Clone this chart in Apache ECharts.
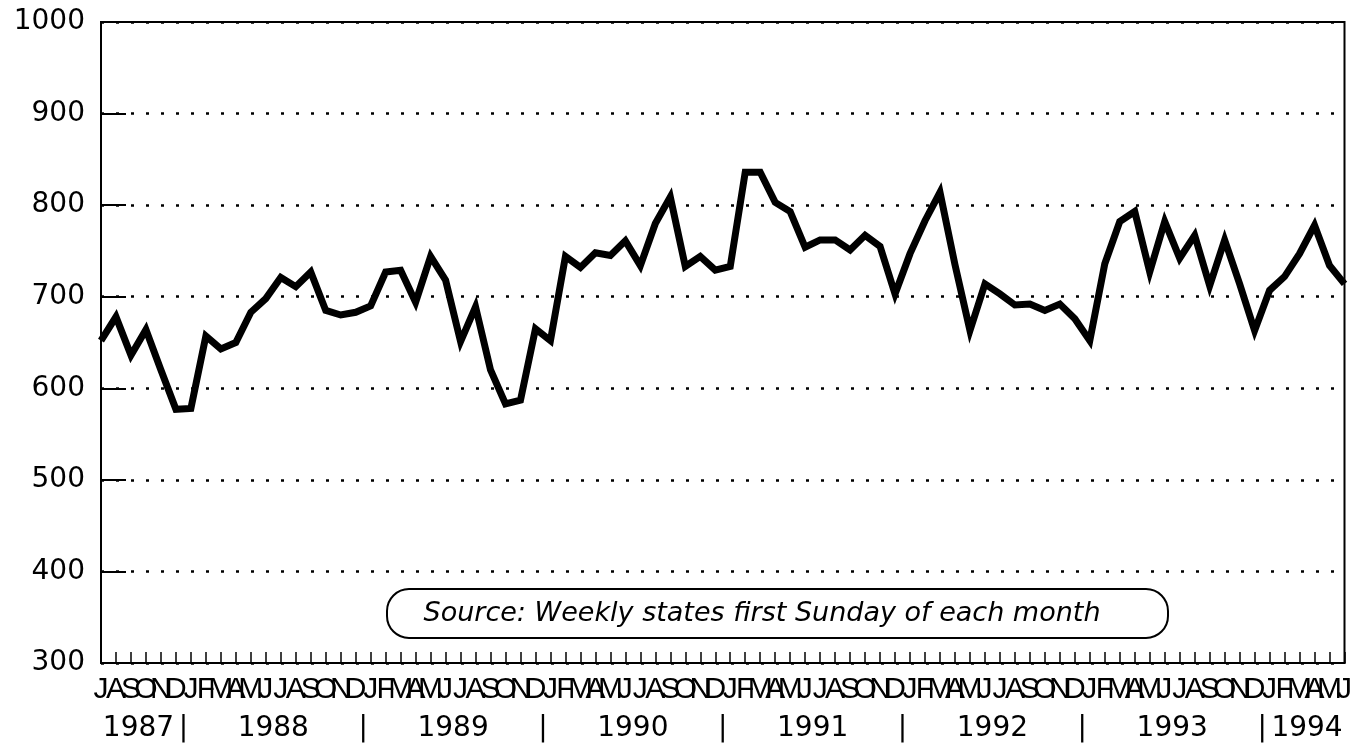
<!DOCTYPE html>
<html>
<head>
<meta charset="utf-8">
<script src="https://cdn.jsdelivr.net/npm/echarts@6/dist/echarts.min.js"></script>
<style>
  html, body { margin: 0; padding: 0; background: #fff; }
  #chart { width: 1355px; height: 746px; }
</style>
</head>
<body>
<div id="chart"></div>
<script>
// months Jul 1987 .. Jun 1994
const monthLetters = ['J', 'F', 'M', 'A', 'M', 'J', 'J', 'A', 'S', 'O', 'N', 'D'];
const startYear = 1987;
const startMonth = 6; // July (0-based)
const monthCount = 84;

const values = [
  652, 678, 636, 664, 620, 577, 578, 657, 643, 650, 683, 698,
  721, 711, 727, 685, 680, 683, 690, 727, 729, 694, 744, 718,
  651, 689, 620, 583, 587, 665, 652, 744, 732, 748, 745, 761,
  734, 780, 809, 733, 744, 729, 733, 836, 836, 803, 793, 754,
  762, 762, 751, 767, 755, 703, 747, 783, 814, 735, 663, 714,
  703, 691, 692, 685, 692, 676, 652, 736, 782, 793, 727, 782,
  742, 767, 712, 762, 714, 663, 707, 722, 747, 778, 734, 714
];

const yearLabels = ['1987', '1988', '1989', '1990', '1991', '1992', '1993', '1994'];
const yTicks = [300, 400, 500, 600, 700, 800, 900, 1000];
const sourceNote = 'Source: Weekly states first Sunday of each month';

// category names
const categories = [];
for (let i = 0; i < monthCount; i++) {
  const m = (startMonth + i) % 12;
  const y = startYear + Math.floor((startMonth + i) / 12);
  categories.push(y + '-' + String(m + 1).padStart(2, '0'));
}

// year row: label at middle of each year's months, bar between years
const yearRow = {};
yearLabels.forEach((yr, idx) => {
  let first = null, last = null;
  categories.forEach((c, i) => {
    if (c.slice(0, 4) === yr) {
      if (first === null) first = i;
      last = i;
    }
  });
  yearRow[((first + last) / 2).toFixed(1)] = yr;
  if (idx > 0) yearRow[(first - 0.5).toFixed(1)] = '|';
});

const numFont = 'DejaVu Sans';

const chart = echarts.init(document.getElementById('chart'));
const option = {
  backgroundColor: '#fff',
  animation: false,
  grid: {
    left: 101, right: 10, top: 22, bottom: 83,
    show: true, borderColor: '#000', borderWidth: 2
  },
  xAxis: [
    {
      type: 'category',
      data: categories,
      boundaryGap: false,
      axisLine: { lineStyle: { color: '#000', width: 2 } },
      axisTick: { show: true, inside: true, length: 11, interval: 0, lineStyle: { color: '#000', width: 1.5 } },
      axisLabel: {
        interval: 0,
        margin: 12,
        color: '#000',
        fontFamily: 'Liberation Sans',
        fontSize: 30,
        formatter: function (v) {
          return monthLetters[parseInt(v.slice(5), 10) - 1];
        }
      },
      splitLine: { show: false }
    },
    {
      type: 'value',
      position: 'bottom',
      min: 0,
      max: monthCount - 1,
      interval: 0.5,
      axisLine: { show: false },
      axisTick: { show: false },
      splitLine: { show: false },
      axisLabel: {
        margin: 52,
        color: '#000',
        fontFamily: numFont,
        fontSize: 28,
        formatter: function (v) {
          return yearRow[v.toFixed(1)] || '';
        }
      }
    }
  ],
  yAxis: {
    type: 'value',
    min: yTicks[0],
    max: yTicks[yTicks.length - 1],
    interval: 100,
    axisLine: { show: true, lineStyle: { color: '#000', width: 2 } },
    axisTick: { show: true, inside: true, length: 25, lineStyle: { color: '#000', width: 2 } },
    axisLabel: {
      margin: 16,
      color: '#000',
      fontFamily: numFont,
      fontSize: 28,
      formatter: function (v) { return String(v); }
    },
    splitLine: {
      show: true,
      lineStyle: { color: '#000', width: 2.5, type: [3, 12] }
    }
  },
  graphic: [
    {
      type: 'rect',
      shape: { x: 387, y: 589, width: 781, height: 49, r: 22 },
      style: { fill: '#fff', stroke: '#000', lineWidth: 2 },
      z: 10
    },
    {
      type: 'text',
      x: 762, y: 614,
      style: {
        text: sourceNote,
        fill: '#000',
        font: 'italic 27px "DejaVu Sans"',
        align: 'center',
        verticalAlign: 'middle'
      },
      z: 11
    }
  ],
  series: [
    {
      type: 'line',
      data: values,
      xAxisIndex: 0,
      showSymbol: false,
      symbol: 'none',
      lineStyle: { color: '#000', width: 7, join: 'miter', miterLimit: 4 },
      z: 5
    }
  ]
};
chart.setOption(option);
</script>
</body>
</html>
